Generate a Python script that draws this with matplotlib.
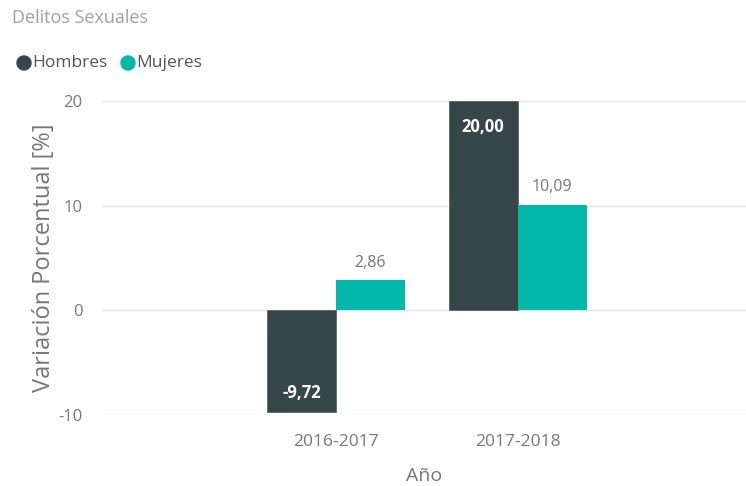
import matplotlib.pyplot as plt
import numpy as np

# Data
periodos = ["2016-2017", "2017-2018"]
hombres = [-9.72, 20.00]
mujeres = [2.86, 10.09]

col_h = "#374649"
col_m = "#01B8AA"

plt.rcParams['font.family'] = ['Open Sans', 'DejaVu Sans']
plt.rcParams['axes.unicode_minus'] = False

fig = plt.figure(figsize=(7.46, 4.86), dpi=100)
ax = fig.add_axes([102 / 746, (486 - 415) / 486, 644 / 746, 314 / 486])

x = np.arange(len(periodos))
w = 0.38
bh = ax.bar(x - w / 2, hombres, w, color=col_h, edgecolor="#5a6668", linewidth=0.6, zorder=3)
bm = ax.bar(x + w / 2, mujeres, w, color=col_m, zorder=3)

ax.set_xlim(-1.288, 2.257)
ax.set_ylim(-10, 20)
ax.set_yticks([-10, 0, 10, 20])
ax.set_xticks(x)
ax.set_xticklabels(periodos)
ax.grid(axis="y", color="#e6e6e6", linewidth=1, zorder=0)
for s in ax.spines.values():
    s.set_visible(False)
ax.tick_params(length=0, colors="#777777")
ax.tick_params(axis="y", pad=14, labelsize=12)
ax.tick_params(axis="x", pad=14, labelsize=12.5)

ax.set_ylabel("Variación Porcentual [%]", color="#777777", fontsize=17, labelpad=2)
ax.set_xlabel("Año", color="#777777", fontsize=14, labelpad=12)

def fmt(v):
    return f"{v:.2f}".replace(".", ",")

# labels for Hombres: white bold inside bars
for xi, v in zip(x, hombres):
    if v >= 0:
        ax.text(xi - w / 2, v - 2.5, fmt(v), ha="center", va="center",
                color="white", fontsize=12, fontweight="bold", zorder=4)
    else:
        ax.text(xi - w / 2, v + 1.8, fmt(v), ha="center", va="center",
                color="white", fontsize=12, fontweight="bold", zorder=4)

for xi, v in zip(x, mujeres):
    ax.text(xi + w / 2, v + 1.7, fmt(v), ha="center", va="center",
            color="#777777", fontsize=11.5, zorder=4)

# title and legend
fig.text(12 / 746, 1 - 18 / 486, "Delitos Sexuales", color="#a0a0a0", fontsize=13, va="center")
fig.patches.append(plt.Circle((24, 486 - 63), 7, color=col_h, transform=None, figure=fig))
fig.text(32 / 746, 1 - 63 / 486, "Hombres", color="#555555", fontsize=12.5, va="center")
fig.patches.append(plt.Circle((128, 486 - 63), 7, color=col_m, transform=None, figure=fig))
fig.text(136 / 746, 1 - 63 / 486, "Mujeres", color="#555555", fontsize=12.5, va="center")

fig.savefig("out.png", dpi=100)
